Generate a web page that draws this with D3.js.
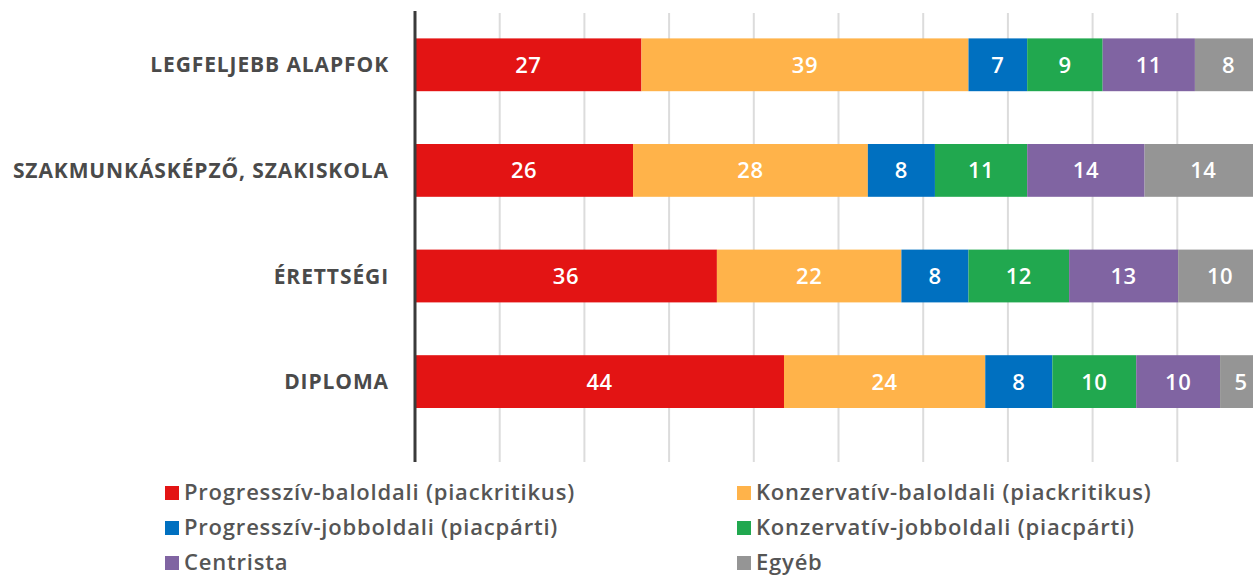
<!DOCTYPE html>
<html>
<head>
<meta charset="utf-8">
<script src="https://cdn.jsdelivr.net/npm/d3@7"></script>
<style>
  body { margin: 0; background: #fff; }
  svg { display: block; font-family: "Open Sans", "Noto Sans", sans-serif; }
</style>
</head>
<body>
<script>
let categories = ["LEGFELJEBB ALAPFOK", "SZAKMUNKÁSKÉPZŐ, SZAKISKOLA", "ÉRETTSÉGI", "DIPLOMA"];
let seriesNames = ["Progresszív-baloldali (piackritikus)", "Konzervatív-baloldali (piackritikus)",
  "Progresszív-jobboldali (piacpárti)", "Konzervatív-jobboldali (piacpárti)", "Centrista", "Egyéb"];
let colors = ["#e31414", "#ffb34a", "#0070c0", "#21a84f", "#8064a2", "#959595"];
let progBal = [27, 26, 36, 44];
let konzBal = [39, 28, 22, 24];
let progJobb = [7, 8, 8, 8];
let konzJobb = [9, 11, 12, 10];
let centrista = [11, 14, 13, 10];
let egyeb = [8, 14, 10, 5];
let gridTicks = [10, 20, 30, 40, 50, 60, 70, 80, 90];

let width = 1253, height = 575;
let series = [progBal, konzBal, progJobb, konzJobb, centrista, egyeb];

let rows = categories.map((c, i) => {
  let row = { cat: c };
  seriesNames.forEach((s, j) => row[s] = series[j][i]);
  return row;
});

let stacked = d3.stack().keys(seriesNames)
  .offset(d3.stackOffsetExpand)(rows);

let x = d3.scaleLinear().domain([0, 1]).range([415, 1262]);
let y = d3.scaleBand().domain(categories).range([12, 434.4])
  .paddingInner(0.5).paddingOuter(0.25);
let color = d3.scaleOrdinal().domain(seriesNames).range(colors);

let svg = d3.select("body").append("svg")
  .attr("width", width)
  .attr("height", height);

// gridlines
svg.append("g").selectAll("line").data(gridTicks).enter().append("line")
  .attr("x1", d => x(d / 100)).attr("x2", d => x(d / 100))
  .attr("y1", 13).attr("y2", 462)
  .attr("stroke", "#dcdcdc").attr("stroke-width", 2);

// bars
let layer = svg.append("g").selectAll("g").data(stacked).enter().append("g")
  .attr("fill", d => color(d.key));

layer.selectAll("rect").data(d => d).enter().append("rect")
  .attr("x", d => x(d[0]))
  .attr("width", d => x(d[1]) - x(d[0]))
  .attr("y", d => y(d.data.cat))
  .attr("height", y.bandwidth());

layer.selectAll("text").data(d => d.map(v => Object.assign({ key: d.key }, v))).enter().append("text")
  .attr("x", d => (x(d[0]) + x(d[1])) / 2)
  .attr("y", d => y(d.data.cat) + y.bandwidth() / 2)
  .attr("dy", "0.36em")
  .attr("text-anchor", "middle")
  .attr("fill", "#fff")
  .attr("font-size", "22px")
  .attr("font-weight", 600)
  .attr("letter-spacing", "0.5px")
  .text(d => d.data[d.key]);

// axis line
svg.append("line")
  .attr("x1", 415).attr("x2", 415)
  .attr("y1", 11).attr("y2", 462)
  .attr("stroke", "#3a3a3a").attr("stroke-width", 3);

// category labels
svg.append("g").selectAll("text").data(categories).enter().append("text")
  .attr("x", 389)
  .attr("y", d => y(d) + y.bandwidth() / 2)
  .attr("dy", "0.36em")
  .attr("text-anchor", "end")
  .attr("fill", "#4a4a4a")
  .attr("font-size", "21px")
  .attr("font-weight", 700)
  .attr("letter-spacing", "0.9px")
  .text(d => d);

// legend
let legend = svg.append("g").selectAll("g").data(seriesNames).enter().append("g")
  .attr("transform", (d, i) => `translate(${i % 2 === 0 ? 165 : 737}, ${500 + Math.floor(i / 2) * 35})`);

legend.append("rect")
  .attr("x", 0).attr("y", -14)
  .attr("width", 14).attr("height", 14)
  .attr("fill", d => color(d));

legend.append("text")
  .attr("x", 19)
  .attr("fill", "#555")
  .attr("font-size", "22px")
  .attr("font-weight", 600)
  .attr("letter-spacing", "0.8px")
  .text(d => d);
</script>
</body>
</html>
